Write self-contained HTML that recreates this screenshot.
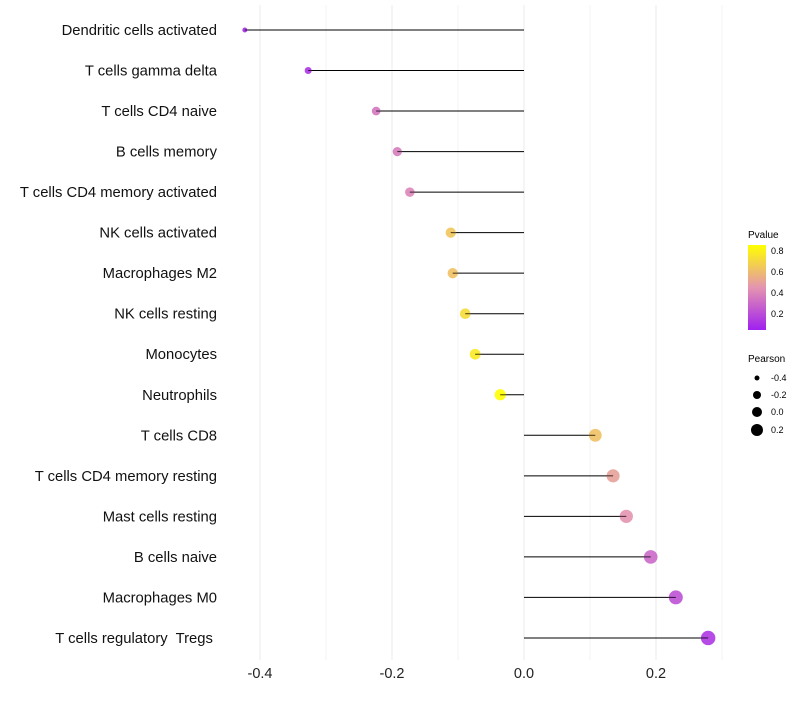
<!DOCTYPE html>
<html><head><meta charset="utf-8"><style>
body{margin:0;background:#fff;font-family:"Liberation Sans",sans-serif}
text{white-space:pre}
</style></head><body>
<svg id="c" width="800" height="700" xmlns="http://www.w3.org/2000/svg">
<defs><linearGradient id="g" x1="0" y1="1" x2="0" y2="0">
<stop offset="0" stop-color="#a020f0"/><stop offset="0.5" stop-color="#e494b0"/><stop offset="1" stop-color="#ffff00"/></linearGradient></defs>
<g id="grid"></g><g id="marks"></g><g id="labels"></g>
<g font-size="10">
<text x="748" y="238">Pvalue</text>
<rect x="748" y="245" width="18" height="85" fill="url(#g)"/>
<text x="771" y="254" font-size="9">0.8</text>
<text x="771" y="275" font-size="9">0.6</text>
<text x="771" y="296" font-size="9">0.4</text>
<text x="771" y="317" font-size="9">0.2</text>
<text x="748" y="362">Pearson</text>
<circle cx="757" cy="378" r="2.5"/><text x="771" y="381" font-size="9">-0.4</text>
<circle cx="757" cy="395" r="4"/><text x="771" y="398" font-size="9">-0.2</text>
<circle cx="757" cy="412" r="5"/><text x="771" y="415" font-size="9">0.0</text>
<circle cx="757" cy="430" r="6"/><text x="771" y="433" font-size="9">0.2</text>
</g>
</svg>
<script>
const categories=["Dendritic cells activated","T cells gamma delta","T cells CD4 naive","B cells memory","T cells CD4 memory activated","NK cells activated","Macrophages M2","NK cells resting","Monocytes","Neutrophils","T cells CD8","T cells CD4 memory resting","Mast cells resting","B cells naive","Macrophages M0","T cells regulatory  Tregs "];
const pearson=[-0.423,-0.327,-0.224,-0.192,-0.173,-0.111,-0.108,-0.089,-0.074,-0.036,0.108,0.135,0.155,0.192,0.230,0.279];
const pvalue=[0.08,0.12,0.35,0.37,0.40,0.64,0.62,0.72,0.77,0.88,0.62,0.50,0.45,0.30,0.22,0.13];
const xTicks=[-0.4,-0.2,0.0,0.2];
const NS="http://www.w3.org/2000/svg";
const X=v=>524+v*660, Y=i=>30+i*40.53;
function col(p){let t=Math.max(0,Math.min(1,(p-0.05)/0.8));const a=[160,32,240],m=[228,148,176],b=[255,255,0];let c=t<0.5?a.map((v,k)=>v+(m[k]-v)*t*2):m.map((v,k)=>v+(b[k]-v)*(t-0.5)*2);return `rgb(${c.map(Math.round).join(',')})`;}
function mk(tag,at,parent){const e=document.createElementNS(NS,tag);for(const k in at)e.setAttribute(k,at[k]);document.getElementById(parent).appendChild(e);return e;}
for(let k=0;k<8;k++){const v=-0.4+k*0.1;const g=mk('line',{x1:X(v),x2:X(v),y1:5,y2:660,stroke:k%2==0?'#ebebeb':'#f3f3f3','stroke-width':1},'grid');

}
xTicks.forEach(t=>{const e=mk('text',{x:X(t),y:678,'text-anchor':'middle','font-size':14.5,fill:'#222'},'labels');e.textContent=t.toFixed(1);

});
categories.forEach((c,i)=>{const e=mk('text',{x:217,y:Y(i)+5,'text-anchor':'end','font-size':14.8,fill:'#111'},'labels');e.textContent=c;


const l=mk('line',{x1:X(0),x2:X(pearson[i]),y1:Y(i),y2:Y(i),stroke:'#000','stroke-width':1},'marks');


const r=Math.sqrt(6+(pearson[i]+0.423)*66);
const d=mk('circle',{cx:X(pearson[i]),cy:Y(i),r:r,fill:col(pvalue[i]),opacity:0.9},'marks');


const o=mk('line',{x1:X(pearson[i]),x2:X(pearson[i])+(pearson[i]<0?r:-r),y1:Y(i),y2:Y(i),stroke:'#000','stroke-width':1,opacity:0.7},'marks');

});
</script>
</body></html>
